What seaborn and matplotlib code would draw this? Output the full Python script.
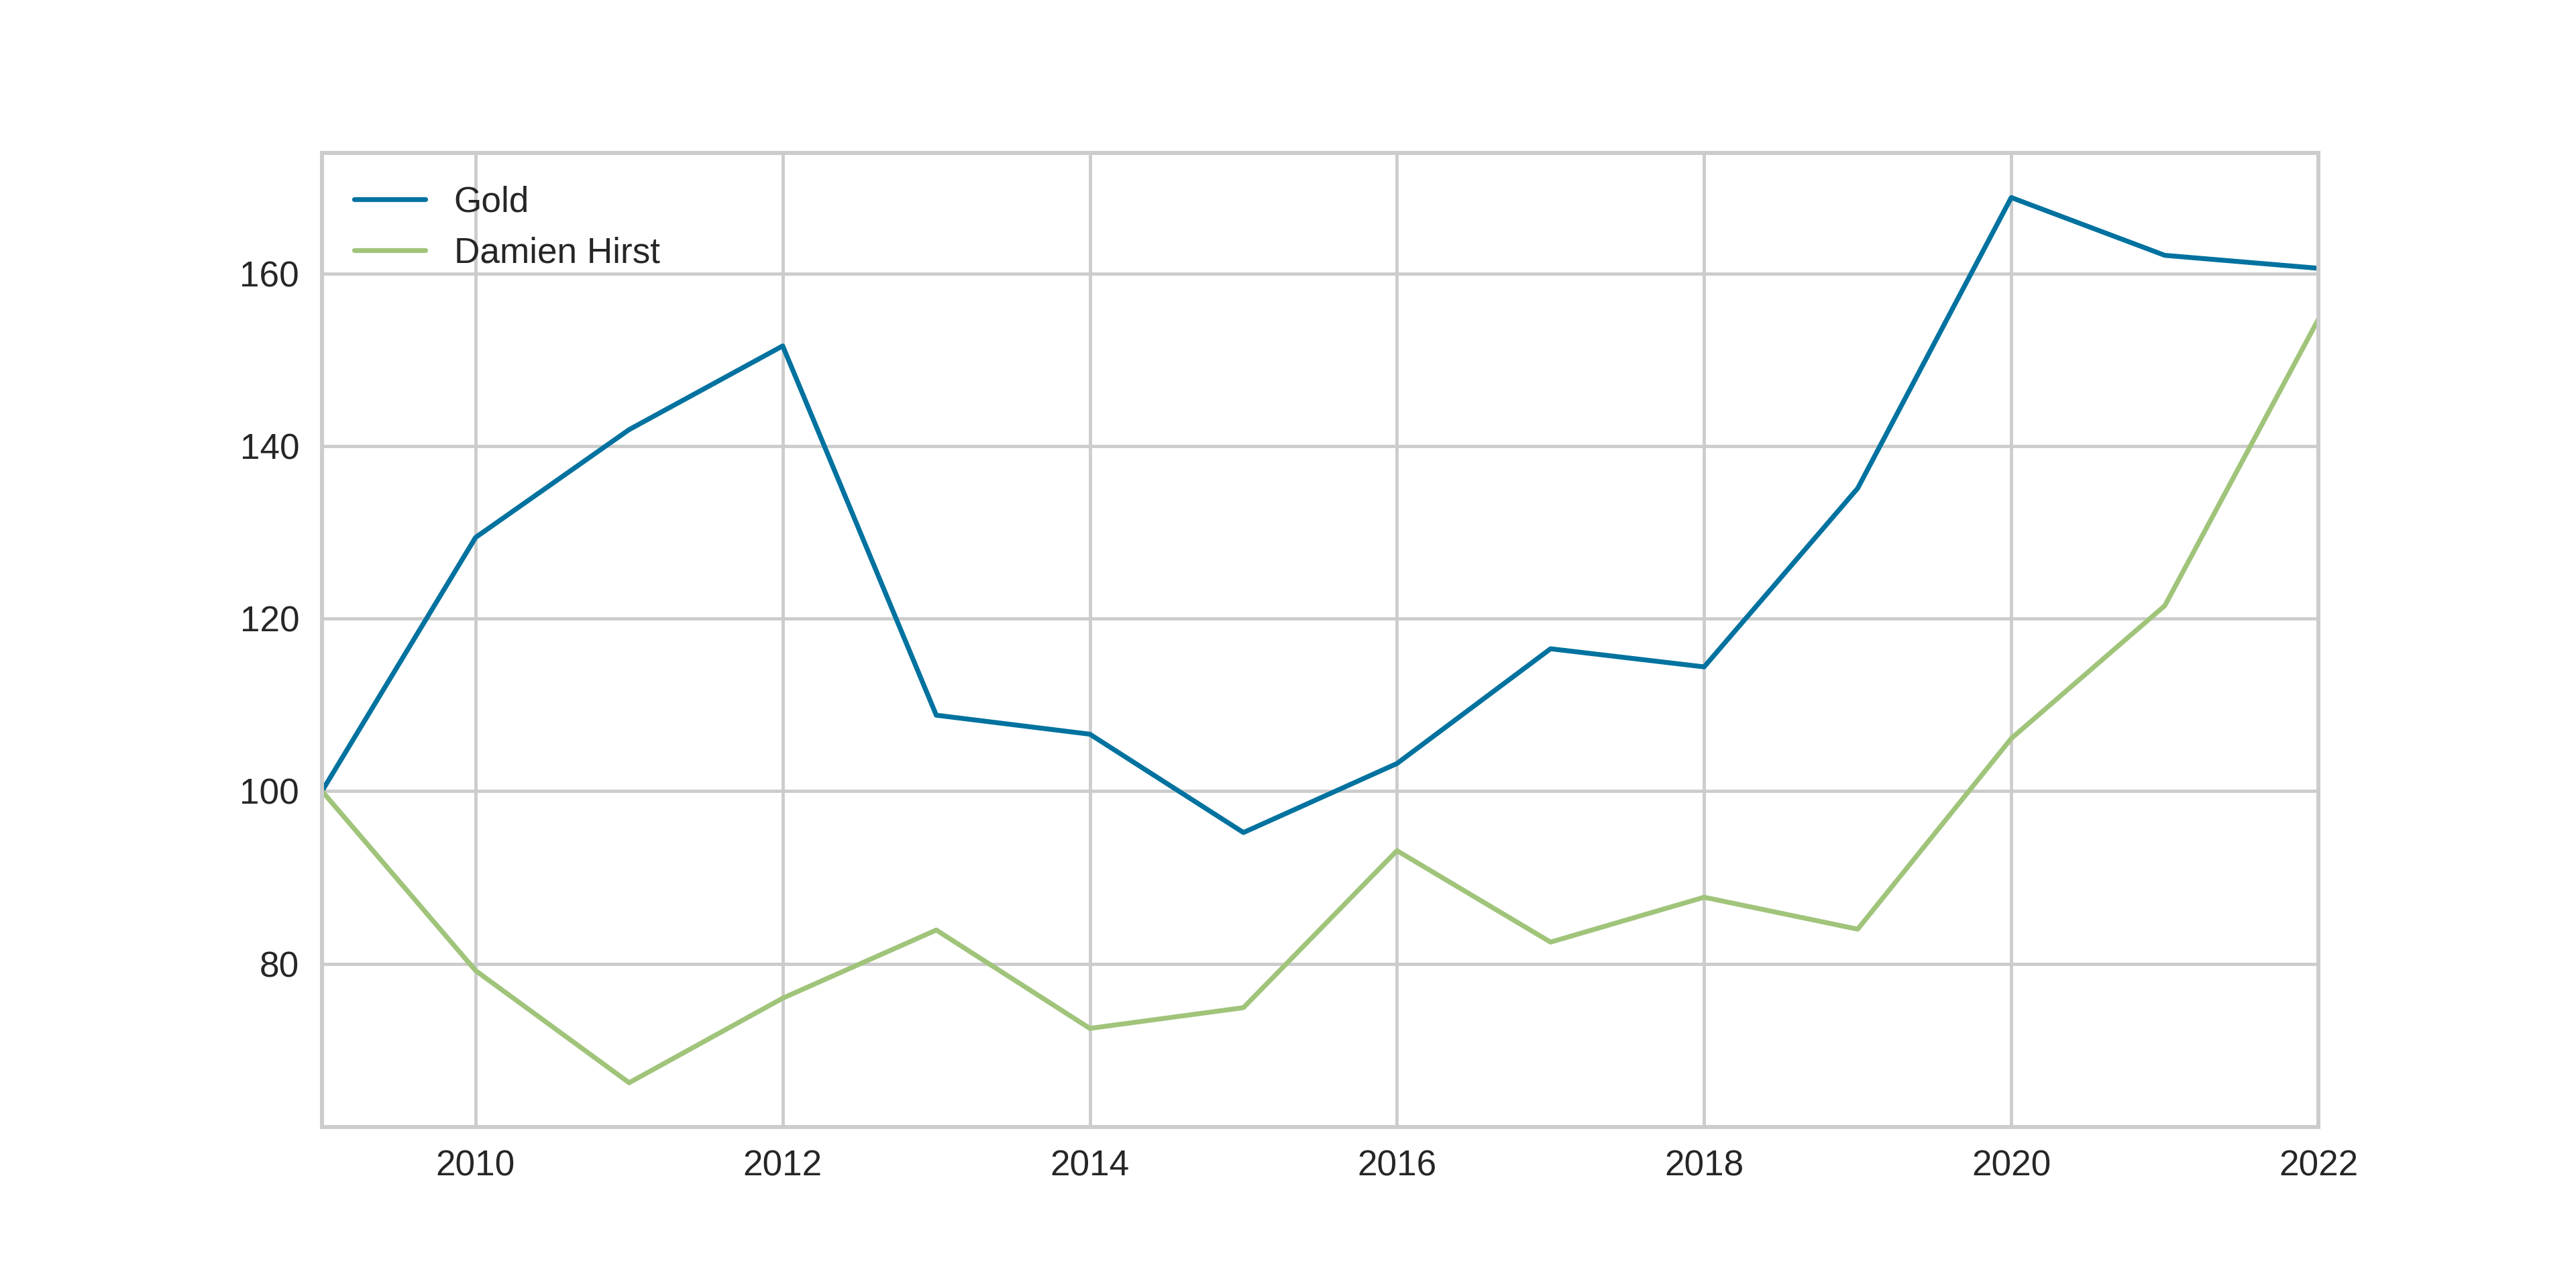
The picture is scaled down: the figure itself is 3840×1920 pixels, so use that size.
import matplotlib
matplotlib.use("Agg")
import matplotlib.pyplot as plt
import seaborn as sns
import pandas as pd

years = list(range(2009, 2023))
gold = [100, 129.4, 141.9, 151.6, 108.8, 106.6, 95.2, 103.2, 116.5, 114.4, 135.1, 168.8, 162.1, 160.6]
hirst = [100, 79.2, 66.2, 76.0, 83.9, 72.5, 74.9, 93.1, 82.5, 87.7, 84.0, 106.1, 121.5, 154.7]
series_names = ["Gold", "Damien Hirst"]
colors = ["#00729F", "#A0C47A"]

sns.set_theme(style="whitegrid", rc={
    "xtick.major.size": 0, "ytick.major.size": 0,
    "xtick.major.pad": 7, "ytick.major.pad": 7,
})
plt.rcParams['font.family'] = ['Liberation Sans', 'DejaVu Sans']

df = pd.DataFrame({
    "year": years * 2,
    "value": gold + hirst,
    "series": [series_names[0]] * len(years) + [series_names[1]] * len(years),
})

DPI = 348
fig, ax = plt.subplots(figsize=(3840 / DPI, 1920 / DPI), dpi=DPI)
fig.subplots_adjust(left=0.125, right=0.9, top=0.881, bottom=0.125)
sns.lineplot(data=df, x="year", y="value", hue="series", palette=colors, ax=ax, linewidth=1.5)
ax.set_xlim(2009, 2022)
ax.set_xlabel("")
ax.set_ylabel("")
leg = ax.legend(loc="upper left", frameon=False)
fig.savefig("out.png", dpi=DPI)
